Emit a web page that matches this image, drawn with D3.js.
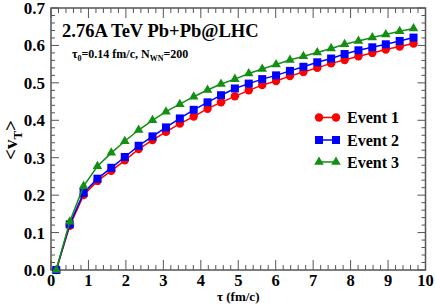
<!DOCTYPE html>
<html><head><meta charset="utf-8">
<script src="https://cdn.jsdelivr.net/npm/d3@7"></script>
<style>body{margin:0;background:#fff}svg{display:block}text{font-family:"Liberation Serif","Times New Roman",serif;font-weight:bold;fill:#000}</style>
</head><body>
<script>
const tau = [0.14,0.50,0.87,1.24,1.61,1.97,2.34,2.71,3.07,3.44,3.81,4.18,4.54,4.91,5.28,5.64,6.01,6.38,6.74,7.11,7.48,7.84,8.21,8.58,8.94,9.31,9.68];
const event1 = [0,0.118,0.200,0.238,0.265,0.293,0.323,0.347,0.369,0.391,0.410,0.431,0.448,0.464,0.480,0.494,0.505,0.518,0.529,0.540,0.552,0.561,0.571,0.580,0.589,0.597,0.605];
const event2 = [0,0.122,0.206,0.244,0.273,0.302,0.332,0.357,0.381,0.405,0.428,0.448,0.467,0.485,0.498,0.510,0.520,0.532,0.543,0.555,0.565,0.577,0.587,0.595,0.603,0.612,0.621];
const event3 = [0,0.129,0.224,0.277,0.313,0.344,0.374,0.400,0.423,0.443,0.463,0.481,0.497,0.510,0.525,0.537,0.549,0.561,0.571,0.581,0.592,0.603,0.612,0.621,0.629,0.638,0.645];
const seriesNames = ["Event 1","Event 2","Event 3"];
const xTicks = [0,1,2,3,4,5,6,7,8,9,10];
const yTicks = [0.0,0.1,0.2,0.3,0.4,0.5,0.6,0.7];

const W=436,H=305, L=51, R=425.5, T=8, B=270;
const svg=d3.select("body").append("svg").attr("width",W).attr("height",H);
const x=d3.scaleLinear().domain([0,10]).range([L,R]);
const y=d3.scaleLinear().domain([0,0.7]).range([B,T]);
const frame="#555";

// ticks
const g=svg.append("g").attr("stroke",frame).attr("stroke-width",1);
const xMinor=d3.range(0,50+1).map(i=>i*0.2);
xMinor.forEach((v,i)=>{
  const len = i%5===0?10:5;
  const px=x(v);
  g.append("line").attr("x1",px).attr("x2",px).attr("y1",B).attr("y2",B-len);
  g.append("line").attr("x1",px).attr("x2",px).attr("y1",T).attr("y2",T+len);
});
const yMinor=d3.range(0,35+1).map(i=>i*0.02);
yMinor.forEach((v,i)=>{
  const len = i%5===0?8:4;
  const py=y(v);
  g.append("line").attr("x1",L).attr("x2",L+len).attr("y1",py).attr("y2",py);
  g.append("line").attr("x1",R).attr("x2",R-len).attr("y1",py).attr("y2",py);
});
svg.append("rect").attr("x",L).attr("y",T).attr("width",R-L).attr("height",B-T)
  .attr("fill","none").attr("stroke",frame).attr("stroke-width",1.5);

// tick labels
svg.append("g").selectAll("text").data(xTicks).join("text")
  .attr("x",d=>x(d)).attr("y",B+15.5).attr("text-anchor","middle").attr("font-size",16.5).text(d=>d);
svg.append("g").selectAll("text").data(yTicks).join("text")
  .attr("x",L-6).attr("y",d=>y(d)+6).attr("text-anchor","end").attr("font-size",17).text(d=>d.toFixed(1));

// axis titles
svg.append("text").attr("x",x(5)).attr("y",301).attr("text-anchor","middle").attr("font-size",13)
  .text("τ (fm/c)");
const yl=svg.append("text").attr("transform","translate(17,140) rotate(-90)").attr("text-anchor","middle").attr("font-size",19);
yl.append("tspan").text("<v");
yl.append("tspan").attr("font-size",13).attr("dy",5).text("T");
yl.append("tspan").attr("dy",-5).text(">");

// header texts
svg.append("text").attr("x",62).attr("y",37).attr("font-size",18.5).text("2.76A TeV Pb+Pb@LHC");
const st=svg.append("text").attr("x",72).attr("y",58).attr("font-size",12);
st.append("tspan").text("τ");
st.append("tspan").attr("font-size",8).attr("dy",3).text("0");
st.append("tspan").attr("dy",-3).text("=0.14 fm/c, N");
st.append("tspan").attr("font-size",8).attr("dy",3).text("WN");
st.append("tspan").attr("dy",-3).text("=200");

// series
const colors=["#ff0000","#0000ff","#138f13"];
const allSeries=[event1,event2,event3];
const line=d3.line().x(d=>x(d[0])).y(d=>y(d[1]));
function marker(sel,k){
  if(k===0) sel.append("circle").attr("r",4.2);
  else if(k===1) sel.append("rect").attr("x",-4).attr("y",-4).attr("width",8).attr("height",8);
  else sel.append("path").attr("d",d3.symbol(d3.symbolTriangle,40)());
}
allSeries.forEach((vals,k)=>{
  const pts=tau.map((t,i)=>[t,vals[i]]);
  svg.append("path").datum(pts).attr("d",line).attr("fill","none").attr("stroke",colors[k]).attr("stroke-width",1.5);
  const mg=svg.append("g").attr("fill",colors[k]);
  pts.forEach(p=>{
    const m=mg.append("g").attr("transform",`translate(${x(p[0])},${y(p[1])})`);
    marker(m,k);
  });
});

// legend
const legY=[117.5,140,162];
seriesNames.forEach((n,k)=>{
  const lg=svg.append("g").attr("transform",`translate(0,${legY[k]})`);
  lg.append("line").attr("x1",319).attr("x2",336).attr("y1",0).attr("y2",0).attr("stroke",colors[k]).attr("stroke-width",1.5);
  [319,336].forEach(px=>{
    const m=lg.append("g").attr("transform",`translate(${px},0)`).attr("fill",colors[k]);
    marker(m,k);
  });
  lg.append("text").attr("x",347).attr("y",5.5).attr("font-size",16).text(n);
});
</script>
</body></html>
